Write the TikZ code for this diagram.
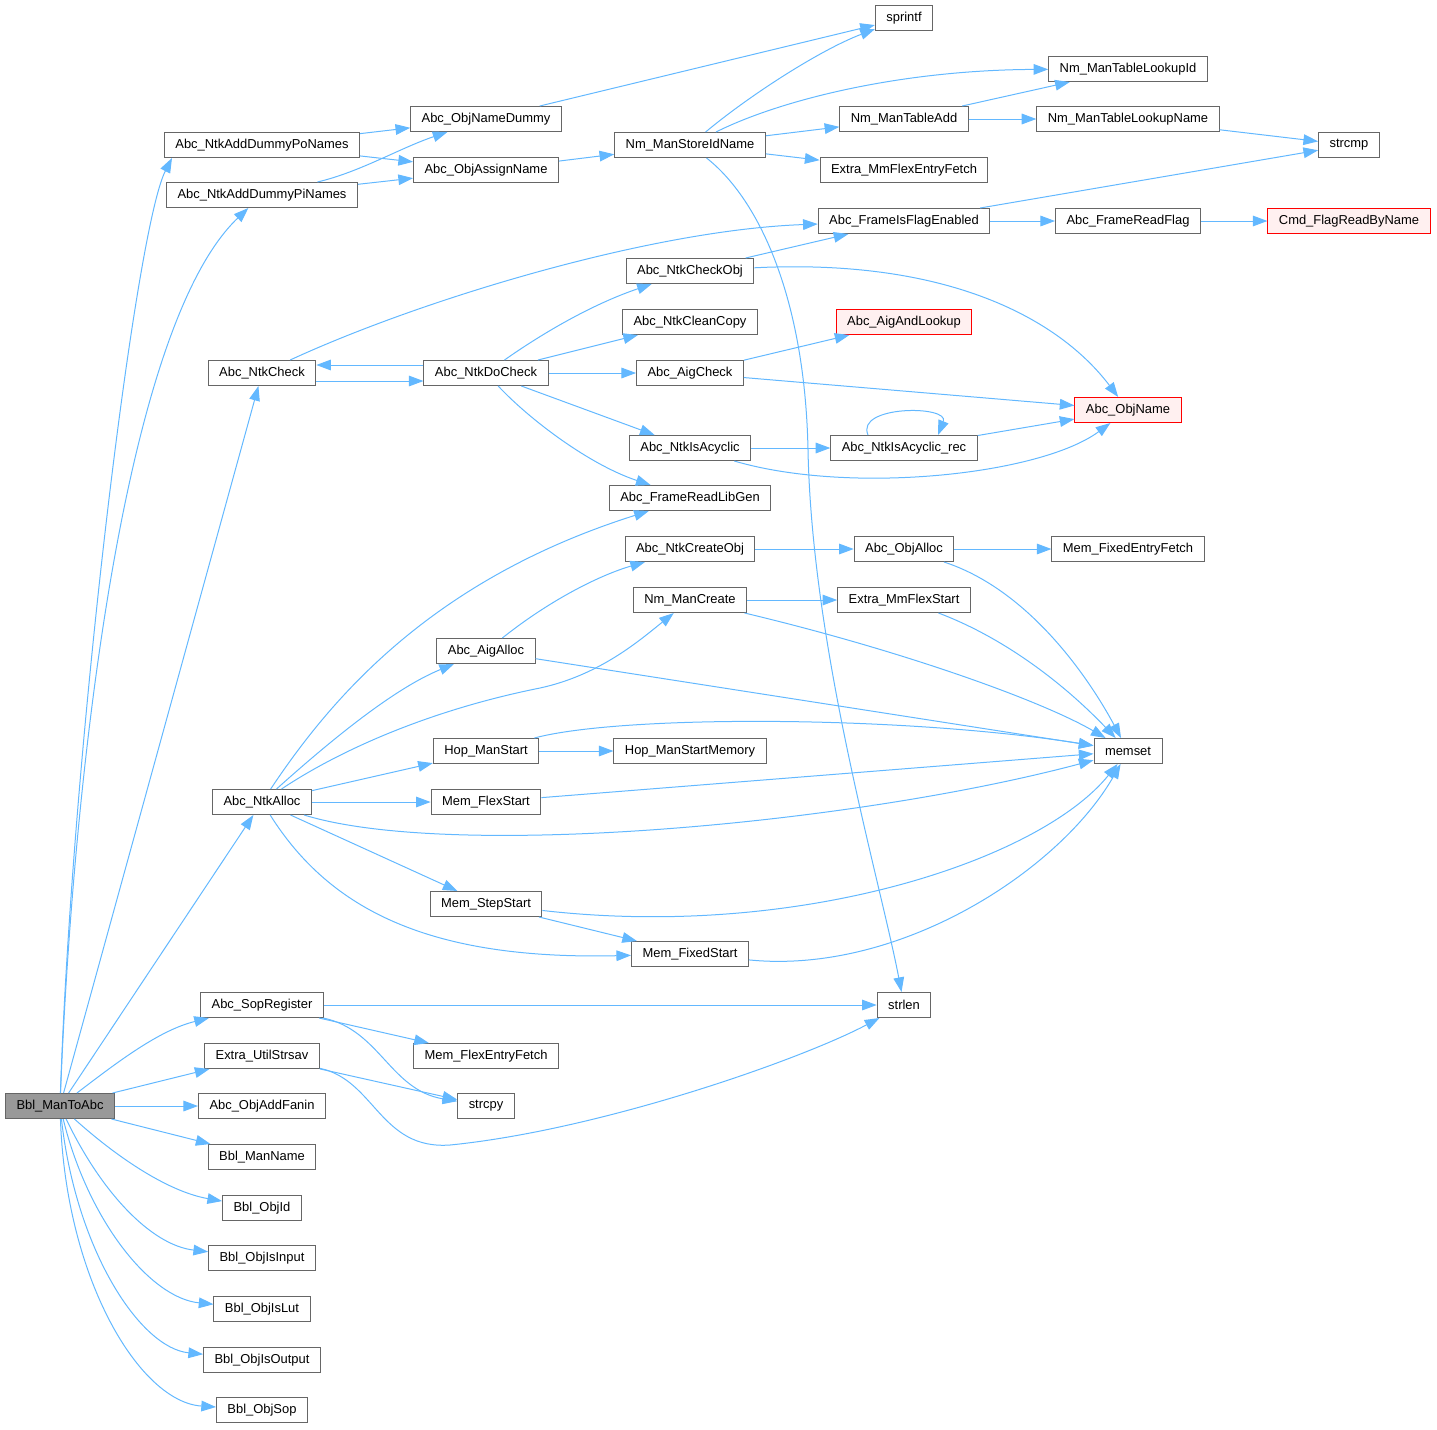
\documentclass[tikz,border=0pt]{standalone}
\usepackage{fontspec}
\setmainfont{Liberation Sans}
\usetikzlibrary{arrows.meta}

\definecolor{edgeblue}{RGB}{99,184,255}
\definecolor{boxgray}{RGB}{102,102,102}
\definecolor{rootfill}{RGB}{153,153,153}
\definecolor{redfill}{RGB}{255,240,240}

\tikzset{every picture/.style={line width=0.75pt}}
\tikzset{
  fn/.style={draw=boxgray, fill=white, minimum height=18.75pt, inner xsep=8.25pt, inner ysep=0pt, font=\fontsize{9.7}{11}\selectfont},
  fnroot/.style={fn, fill=rootfill},
  fnred/.style={fn, draw=red, fill=redfill},
  call/.style={draw=edgeblue, -{Triangle[length=11pt,width=8pt]}}
}

\begin{document}
\begin{tikzpicture}[x=0.75pt,y=0.75pt,yscale=-1,xscale=1]
	\useasboundingbox (0,0) rectangle (1437,1429);

	% Nodes, column 1
	\node[fnroot] (root) at (60,1106) {Bbl\_ManToAbc};
	% column 2
	\node[fn] (po) at (262,145) {Abc\_NtkAddDummyPoNames};
	\node[fn] (pi) at (262,195) {Abc\_NtkAddDummyPiNames};
	\node[fn] (chk) at (262,373) {Abc\_NtkCheck};
	\node[fn] (alloc) at (262,802) {Abc\_NtkAlloc};
	\node[fn] (sopreg) at (262,1005) {Abc\_SopRegister};
	\node[fn] (strsav) at (262,1056) {Extra\_UtilStrsav};
	\node[fn] (addfanin) at (262,1106) {Abc\_ObjAddFanin};
	\node[fn] (manname) at (262,1157) {Bbl\_ManName};
	\node[fn] (objid) at (262,1208) {Bbl\_ObjId};
	\node[fn] (isinput) at (262,1258) {Bbl\_ObjIsInput};
	\node[fn] (islut) at (262,1309) {Bbl\_ObjIsLut};
	\node[fn] (isoutput) at (262,1360) {Bbl\_ObjIsOutput};
	\node[fn] (objsop) at (262,1410) {Bbl\_ObjSop};
	% column 3
	\node[fn] (namedummy) at (486,119) {Abc\_ObjNameDummy};
	\node[fn] (assign) at (486,170) {Abc\_ObjAssignName};
	\node[fn] (dochk) at (486,373) {Abc\_NtkDoCheck};
	\node[fn] (aigalloc) at (486,651) {Abc\_AigAlloc};
	\node[fn] (hopstart) at (486,751) {Hop\_ManStart};
	\node[fn] (flexstart) at (486,802) {Mem\_FlexStart};
	\node[fn] (stepstart) at (486,904) {Mem\_StepStart};
	\node[fn] (flexentry) at (486,1056) {Mem\_FlexEntryFetch};
	\node[fn] (strcpy) at (486,1106) {strcpy};
	% column 4
	\node[fn] (storeid) at (690,145) {Nm\_ManStoreIdName};
	\node[fn] (chkobj) at (690,271) {Abc\_NtkCheckObj};
	\node[fn] (cleancopy) at (690,322) {Abc\_NtkCleanCopy};
	\node[fn] (aigchk) at (690,373) {Abc\_AigCheck};
	\node[fn] (acyclic) at (690,448) {Abc\_NtkIsAcyclic};
	\node[fn] (libgen) at (690,498) {Abc\_FrameReadLibGen};
	\node[fn] (createobj) at (690,549) {Abc\_NtkCreateObj};
	\node[fn] (nmcreate) at (690,600) {Nm\_ManCreate};
	\node[fn] (hopmem) at (690,751) {Hop\_ManStartMemory};
	\node[fn] (fixedstart) at (690,954) {Mem\_FixedStart};
	% column 5
	\node[fn] (sprintf) at (904,18) {sprintf};
	\node[fn] (tableadd) at (904,119) {Nm\_ManTableAdd};
	\node[fn] (mmentry) at (904,170) {Extra\_MmFlexEntryFetch};
	\node[fn] (flagen) at (904,221) {Abc\_FrameIsFlagEnabled};
	\node[fnred] (andlookup) at (904,322) {Abc\_AigAndLookup};
	\node[fn] (acycrec) at (904,448) {Abc\_NtkIsAcyclic\_rec};
	\node[fn] (objalloc) at (904,549) {Abc\_ObjAlloc};
	\node[fn] (mmstart) at (904,600) {Extra\_MmFlexStart};
	\node[fn] (strlen) at (904,1005) {strlen};
	% column 6
	\node[fn] (lookupid) at (1128,69) {Nm\_ManTableLookupId};
	\node[fn] (lookupname) at (1128,119) {Nm\_ManTableLookupName};
	\node[fn] (readflag) at (1128,221) {Abc\_FrameReadFlag};
	\node[fnred] (objname) at (1128,410) {Abc\_ObjName};
	\node[fn] (fixedentry) at (1128,549) {Mem\_FixedEntryFetch};
	\node[fn] (memset) at (1128,751) {memset};
	% column 7
	\node[fn] (strcmp) at (1349,145) {strcmp};
	\node[fnred] (flagread) at (1349,221) {Cmd\_FlagReadByName};

	%Straight Lines
	\draw[call] (root) -- (chk);
	\draw[call] (root) -- (alloc);
	\draw[call] (root) -- (strsav);
	\draw[call] (root) -- (addfanin);
	\draw[call] (root) -- (manname);
	\draw[call] (po) -- (namedummy);
	\draw[call] (po) -- (assign);
	\draw[call] (pi) -- (assign);
	\draw[call] (namedummy) -- (sprintf);
	\draw[call] (assign) -- (storeid);
	\draw[call] (storeid) -- (tableadd);
	\draw[call] (storeid) -- (mmentry);
	\draw[call] (tableadd) -- (lookupid);
	\draw[call] (tableadd) -- (lookupname);
	\draw[call] (lookupname) -- (strcmp);
	\draw[call] (flagen) -- (strcmp);
	\draw[call] (flagen) -- (readflag);
	\draw[call] (readflag) -- (flagread);
	\draw[call] ([yshift=6pt]chk.east) -- ([yshift=6pt]dochk.west);
	\draw[call] ([yshift=-6pt]dochk.west) -- ([yshift=-6pt]chk.east);
	\draw[call] (dochk) -- (cleancopy);
	\draw[call] (dochk) -- (aigchk);
	\draw[call] (dochk) -- (acyclic);
	\draw[call] (chkobj) -- (flagen);
	\draw[call] (aigchk) -- (andlookup);
	\draw[call] (aigchk) -- (objname);
	\draw[call] (acyclic) -- (acycrec);
	\draw[call] (acycrec) -- (objname);
	\draw[call] (alloc) -- (hopstart);
	\draw[call] (alloc) -- (flexstart);
	\draw[call] (alloc) -- (stepstart);
	\draw[call] (aigalloc) -- (memset);
	\draw[call] (createobj) -- (objalloc);
	\draw[call] (objalloc) -- (fixedentry);
	\draw[call] (nmcreate) -- (mmstart);
	\draw[call] (hopstart) -- (hopmem);
	\draw[call] (flexstart) -- (memset);
	\draw[call] (stepstart) -- (fixedstart);
	\draw[call] (sopreg) -- (strlen);
	\draw[call] (sopreg) -- (flexentry);
	\draw[call] (strsav) -- (strcpy);

	%Curve Lines
	\draw[call] (root) .. controls (72,750) and (135,230) .. ([xshift=-67.5pt]po.south);
	\draw[call] (root) .. controls (72,800) and (120,330) .. (pi);
	\draw[call] (root) .. controls (120,1060) and (160,1030) .. (sopreg);
	\draw[call] (root) .. controls (120,1160) and (170,1192) .. (objid);
	\draw[call] (root) .. controls (100,1190) and (150,1245) .. (isinput);
	\draw[call] (root) .. controls (88,1220) and (150,1298) .. (islut);
	\draw[call] (root) .. controls (76,1250) and (140,1348) .. (isoutput);
	\draw[call] (root) .. controls (66,1280) and (140,1402) .. (objsop);
	\draw[call] (pi) .. controls (360,172) and (400,148) .. (namedummy);
	\draw[call] (storeid) .. controls (750,95) and (820,50) .. (sprintf);
	\draw[call] (storeid) .. controls (780,100) and (900,70) .. (lookupid);
	\draw[call] (storeid) .. controls (760,200) and (805,300) .. (808,450) .. controls (812,650) and (880,880) .. (strlen);
	\draw[call] (chk) .. controls (420,300) and (650,230) .. (flagen);
	\draw[call] (dochk) .. controls (540,335) and (590,305) .. (chkobj);
	\draw[call] (dochk) .. controls (530,420) and (590,465) .. (libgen);
	\draw[call] (chkobj) .. controls (950,258) and (1060,320) .. (objname);
	\draw[call] (acyclic) .. controls (850,495) and (1040,475) .. (objname);
	\draw[call] ([xshift=-27pt]acycrec.north) .. controls (855,405) and (950,405) .. ([xshift=25.5pt]acycrec.north);
	\draw[call] (alloc) .. controls (330,700) and (430,580) .. (libgen);
	\draw[call] (alloc) .. controls (320,750) and (390,690) .. (aigalloc);
	\draw[call] (alloc) .. controls (340,750) and (430,710) .. (540,688) .. controls (600,675) and (640,640) .. (nmcreate);
	\draw[call] (alloc) .. controls (450,860) and (850,825) .. (memset);
	\draw[call] (alloc) .. controls (330,910) and (430,960) .. (fixedstart);
	\draw[call] (aigalloc) .. controls (550,600) and (600,575) .. (createobj);
	\draw[call] (objalloc) .. controls (1030,590) and (1090,680) .. (memset);
	\draw[call] (nmcreate) .. controls (900,650) and (1040,700) .. (memset);
	\draw[call] (mmstart) .. controls (1010,640) and (1070,690) .. (memset);
	\draw[call] (hopstart) .. controls (620,715) and (900,715) .. (memset);
	\draw[call] (stepstart) .. controls (800,940) and (1040,860) .. (memset);
	\draw[call] (fixedstart) .. controls (900,975) and (1060,870) .. (memset);
	\draw[call] (sopreg) .. controls (380,1030) and (390,1090) .. (strcpy);
	\draw[call] (strsav) .. controls (375,1080) and (380,1150) .. (450,1145) .. controls (600,1130) and (800,1060) .. (strlen);

\end{tikzpicture}
\end{document}
